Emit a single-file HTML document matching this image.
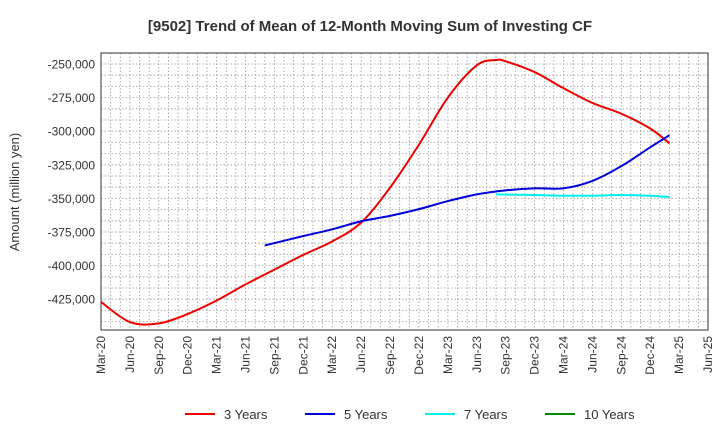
<!DOCTYPE html>
<html><head><meta charset="utf-8"><style>
body{margin:0;background:#fff;font-family:"Liberation Sans",sans-serif}
</style></head><body>
<svg id="c" width="720" height="440" xmlns="http://www.w3.org/2000/svg">
<text x="370" y="31" text-anchor="middle" font-size="15" font-weight="bold" fill="#333">[9502]  Trend of Mean of 12-Month Moving Sum of Investing CF</text>
<text transform="translate(19,192) rotate(-90)" text-anchor="middle" font-size="13" fill="#333">Amount (million yen)</text>
<g id="grid"></g><g id="axes"></g><g id="series"></g><g id="legend"></g>
</svg>
<script>
const yTicks=[-250000,-275000,-300000,-325000,-350000,-375000,-400000,-425000];
const xLabels=["Mar-20","Jun-20","Sep-20","Dec-20","Mar-21","Jun-21","Sep-21","Dec-21","Mar-22","Jun-22","Sep-22","Dec-22","Mar-23","Jun-23","Sep-23","Dec-23","Mar-24","Jun-24","Sep-24","Dec-24","Mar-25","Jun-25"];
const redMonths=[0,3,6,9,12,15,18,21,24,27,30,33,36,39,41,42,45,48,51,54,57,59];
const redVals=[-427000,-442000,-443000,-436000,-426000,-414000,-403000,-392000,-382000,-368000,-342000,-310000,-275000,-251000,-247000,-248000,-256000,-268000,-279000,-287000,-298000,-309000];
const blueMonths=[17,21,24,27,30,33,36,39,42,45,48,51,54,57,59];
const blueVals=[-385000,-378000,-373000,-367000,-363000,-358000,-352000,-347000,-344000,-342500,-342500,-337000,-326000,-312000,-303000];
const cyanMonths=[41,45,48,51,54,57,59];
const cyanVals=[-347000,-347500,-348000,-348000,-347500,-348000,-349000];
const greenMonths=[];const greenVals=[];
const NS="http://www.w3.org/2000/svg";
const L=101,R=708,T=53,B=330;
const X=m=>L+m*(R-L)/63;
const Y=v=>64+(-250000-v)/25000*33.6;
function mk(t,a,p){const e=document.createElementNS(NS,t);for(const k in a)e.setAttribute(k,a[k]);p.appendChild(e);return e;}
const grid=document.getElementById('grid'),axes=document.getElementById('axes'),ser=document.getElementById('series'),leg=document.getElementById('legend');
for(let m=1;m<63;m++){const g=mk('line',{x1:X(m),x2:X(m),y1:T,y2:B,stroke:'#999','stroke-dasharray':'1.5,2','stroke-width':0.8},grid);

}
for(let v=-250000;v>=-450000;v-=25000/3){const yy=Y(v);if(yy<T||yy>B)continue;const g=mk('line',{x1:L,x2:R,y1:yy,y2:yy,stroke:'#999','stroke-dasharray':'1.5,2','stroke-width':0.8},grid);

}
const fr=mk('rect',{x:L,y:T,width:R-L,height:B-T,fill:'none',stroke:'#333','stroke-width':1},axes);


yTicks.forEach(v=>{const t=mk('text',{x:L-6,y:Y(v)+4.5,'text-anchor':'end','font-size':12,fill:'#333'},axes);t.textContent=v.toLocaleString('en-US');

});
xLabels.forEach((s,i)=>{const x=X(i*3);const t=mk('text',{transform:`translate(${x+4},${B+6}) rotate(-90)`,'text-anchor':'end','font-size':12,fill:'#333'},axes);t.textContent=s;

});
function path(ms,vs){const p=ms.map((m,i)=>[X(m),Y(vs[i])]);if(!p.length)return'';let d=`M${p[0][0]},${p[0][1]}`;
for(let i=0;i<p.length-1;i++){const p0=p[i-1]||p[i],p1=p[i],p2=p[i+1],p3=p[i+2]||p2;
d+=` C${p1[0]+(p2[0]-p0[0])/6},${p1[1]+(p2[1]-p0[1])/6} ${p2[0]-(p3[0]-p1[0])/6},${p2[1]-(p3[1]-p1[1])/6} ${p2[0]},${p2[1]}`;}return d;}
[[redMonths,redVals,'#e00','red-3-years-line'],[blueMonths,blueVals,'#00d','blue-5-years-line'],[cyanMonths,cyanVals,'#0ee','cyan-7-years-line'],[greenMonths,greenVals,'#080','green-10-years-line']].forEach(s=>{
if(!s[0].length)return;const e=mk('path',{d:path(s[0],s[1]),fill:'none',stroke:s[2],'stroke-width':2},ser);

});
[['3 Years','#e00',185],['5 Years','#00d',305],['7 Years','#0ee',425],['10 Years','#080',545]].forEach(l=>{
const g=mk('g',{},leg);


mk('line',{x1:l[2],x2:l[2]+30,y1:414,y2:414,stroke:l[1],'stroke-width':2},g);
const t=mk('text',{x:l[2]+39,y:419,'font-size':13,fill:'#333'},g);t.textContent=l[0];});
</script>
</body></html>
